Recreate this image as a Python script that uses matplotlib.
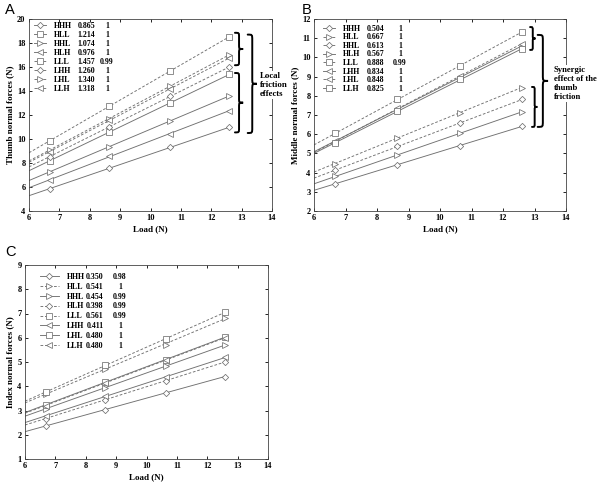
import numpy as np
import matplotlib
matplotlib.use("Agg")
import matplotlib.pyplot as plt
from matplotlib.path import Path
from matplotlib.patches import PathPatch
from matplotlib.lines import Line2D

plt.rcParams['font.family'] = ['Liberation Serif', 'DejaVu Serif']
plt.rcParams['font.weight'] = 'bold'

loads = [6.68, 8.65, 10.63, 12.6]

# Panel A: thumb normal forces
a_names = ["HHH", "HLL", "HHL", "HLH", "LLL", "LHH", "LHL", "LLH"]
a_slopes = ["0.865", "1.214", "1.074", "0.976", "1.457", "1.260", "1.340", "1.318"]
a_r2 = ["1", "1", "1", "1", "0.99", "1", "1", "1"]
a_markers = ["D", "s", ">", "<", "s", "D", ">", "<"]
a_dashed = [False, False, False, False, True, True, True, True]
a_values = [
    [5.86, 7.56, 9.31, 10.97],
    [8.17, 10.61, 12.97, 15.39],
    [7.28, 9.36, 11.47, 13.61],
    [6.58, 8.56, 10.44, 12.36],
    [9.86, 12.72, 15.64, 18.53],
    [8.54, 11.00, 13.56, 16.00],
    [9.10, 11.67, 14.44, 17.00],
    [8.95, 11.56, 14.17, 16.75],
]

# Panel B: middle normal forces
b_names = ["HHH", "HLL", "HHL", "HLH", "LLL", "LHH", "LHL", "LLH"]
b_slopes = ["0.504", "0.667", "0.613", "0.567", "0.888", "0.834", "0.848", "0.825"]
b_r2 = ["1", "1", "1", "1", "0.99", "1", "1", "1"]
b_markers = ["D", ">", "D", ">", "s", "<", "<", "s"]
b_dashed = [False, True, True, False, True, False, True, False]
b_values = [
    [3.43, 4.40, 5.41, 6.41],
    [4.47, 5.82, 7.12, 8.43],
    [4.14, 5.36, 6.56, 7.82],
    [3.81, 4.91, 6.04, 7.17],
    [6.04, 7.82, 9.56, 11.32],
    [5.64, 7.30, 9.00, 10.57],
    [5.60, 7.37, 9.04, 10.69],
    [5.55, 7.19, 8.86, 10.43],
]

# Panel C: index normal forces
c_names = ["HHH", "HLL", "HHL", "HLH", "LLL", "LHH", "LHL", "LLH"]
c_slopes = ["0.350", "0.541", "0.454", "0.398", "0.561", "0.411", "0.480", "0.480"]
c_r2 = ["0.98", "1", "0.99", "0.99", "0.99", "1", "1", "1"]
c_markers = ["D", ">", ">", "D", "s", "<", "s", "<"]
c_dashed = [False, True, False, True, True, False, False, True]
c_values = [
    [2.36, 3.04, 3.74, 4.40],
    [3.67, 4.73, 5.72, 6.81],
    [3.08, 3.93, 4.83, 5.71],
    [2.67, 3.45, 4.22, 5.01],
    [3.77, 4.86, 5.94, 7.07],
    [2.78, 3.58, 4.39, 5.19],
    [3.23, 4.18, 5.10, 6.03],
    [3.20, 4.15, 5.08, 6.00],
]

GRAY = "#707070"
LFS = 5.7
TXT = dict(fontsize=LFS, fontweight='bold')

fig = plt.figure(figsize=(6.0, 4.82), dpi=100)


def make_axes(rect, ylim, yticks, ylabel):
    ax = fig.add_axes(rect)
    ax.set_xlim(6, 14)
    ax.set_ylim(*ylim)
    ax.set_xticks(range(6, 15))
    ax.set_yticks(yticks)
    ax.tick_params(direction='in', top=True, right=True, length=2.5, width=0.6,
                   labelsize=6.0, pad=2.5)
    for s in ax.spines.values():
        s.set_linewidth(0.6)
        s.set_color('#444444')
    ax.set_xlabel("Load (N)", fontsize=6.5, fontweight='bold', labelpad=2)
    ax.set_ylabel(ylabel, fontsize=6.5, fontweight='bold', labelpad=2)
    return ax


def draw_series(ax, values, markers, dashed):
    x = np.array(loads)
    handles = []
    for v, m, d in zip(values, markers, dashed):
        v = np.array(v)
        k, b = np.polyfit(x, v, 1)
        xx = np.array([6.0, x[-1]])
        ls = (0, (3, 2)) if d else '-'
        ax.plot(xx, k * xx + b, color=GRAY, lw=0.65, linestyle=ls, zorder=2)
        ms = 3.2 if m == 'D' else 4.0
        ax.plot(x, v, linestyle='none', marker=m, ms=ms, mfc='white',
                mec=GRAY, mew=0.55, zorder=3)
        handles.append(Line2D([0], [0], color=GRAY, lw=0.65, linestyle=ls,
                              marker=m, ms=ms, mfc='white', mec=GRAY, mew=0.55))
    return handles


def draw_legend(ax, handles, names, slopes, r2, anchor, handlelength,
                spacing, xs, xr):
    leg = ax.legend(handles, names, loc='upper left', bbox_to_anchor=anchor,
                    frameon=False, handlelength=handlelength,
                    handletextpad=1.0, labelspacing=spacing, borderaxespad=0,
                    borderpad=0, prop=dict(weight='bold', size=LFS))
    fig.canvas.draw()
    inv = ax.transAxes.inverted()
    for t, s, r in zip(leg.get_texts(), slopes, r2):
        bb = t.get_window_extent()
        yc = inv.transform(((bb.x0 + bb.x1) / 2, (bb.y0 + bb.y1) / 2))[1]
        ax.text(xs, yc, s, transform=ax.transAxes, ha='center', va='center', **TXT)
        ax.text(xr, yc, r, transform=ax.transAxes, ha='center', va='center', **TXT)
    return leg


def brace(ax, x0, w, ytop, ybot, r, lw=1.4):
    xl, xm, xr = x0, x0 + w * 0.5, x0 + w
    ym = (ytop + ybot) / 2
    verts = [
        (xl, ytop), (xm, ytop), (xm, ytop), (xm, ytop - r),
        (xm, ym + r),
        (xm, ym), (xm, ym), (xr, ym),
        (xm, ym), (xm, ym), (xm, ym - r),
        (xm, ybot + r),
        (xm, ybot), (xm, ybot), (xl, ybot),
    ]
    codes = [Path.MOVETO, Path.CURVE4, Path.CURVE4, Path.CURVE4,
             Path.LINETO,
             Path.CURVE4, Path.CURVE4, Path.CURVE4,
             Path.CURVE4, Path.CURVE4, Path.CURVE4,
             Path.LINETO,
             Path.CURVE4, Path.CURVE4, Path.CURVE4]
    p = PathPatch(Path(verts, codes), fill=False, lw=lw, color='black',
                  clip_on=False, zorder=6, capstyle='round')
    ax.add_patch(p)


# ---- Panel A ----
axA = make_axes([29 / 600, 1 - 211 / 482, 243 / 600, 192 / 482], (4, 20),
                range(4, 21, 2), "Thumb normal forces (N)")
hA = draw_series(axA, a_values, a_markers, a_dashed)
draw_legend(axA, hA, a_names, a_slopes, a_r2, (0.02, 0.985), 1.5, 0.13, 0.237, 0.321)
brace(axA, 12.78, 0.27, 18.85, 16.15, 0.35)
brace(axA, 12.78, 0.27, 15.5, 10.55, 0.35)
brace(axA, 13.2, 0.3, 18.7, 10.5, 0.45)
axA.text(13.6, 14.5, "Local\nfriction\neffects", ha='left', va='center',
         fontsize=6.3, fontweight='bold', linespacing=1.15, clip_on=False, zorder=7,
         bbox=dict(facecolor='white', edgecolor='none', pad=0.5))

# ---- Panel B ----
axB = make_axes([314 / 600, 1 - 211 / 482, 252 / 600, 192 / 482], (2, 12),
                range(2, 13), "Middle normal forces (N)")
hB = draw_series(axB, b_values, b_markers, b_dashed)
draw_legend(axB, hB, b_names, b_slopes, b_r2, (0.035, 0.97), 1.5, 0.07, 0.246, 0.341)
brace(axB, 12.86, 0.17, 11.58, 10.39, 0.2)
brace(axB, 12.92, 0.17, 8.46, 6.38, 0.2)
brace(axB, 13.1, 0.33, 11.17, 6.38, 0.3)
axB.text(13.62, 8.64, "Synergic\neffect of the\nthumb\nfriction", ha='left', va='center',
         fontsize=6.2, fontweight='bold', linespacing=1.15, clip_on=False, zorder=7,
         bbox=dict(facecolor='white', edgecolor='none', pad=0.5))

# ---- Panel C ----
axC = make_axes([25 / 600, 1 - 459 / 482, 243 / 600, 194 / 482], (1, 9),
                range(1, 10), "Index normal forces (N)")
hC = draw_series(axC, c_values, c_markers, c_dashed)
draw_legend(axC, hC, c_names, c_slopes, c_r2, (0.06, 0.96), 2.5, 0.24, 0.288, 0.391)

# Panel letters
for lbl, x, y in [("A", 5, 3), ("B", 302, 3), ("C", 5, 245)]:
    fig.text(x / 600, 1 - y / 482, lbl, ha='left', va='top', fontsize=10.5,
             family=['Liberation Sans', 'DejaVu Sans'], fontweight='normal')

fig.savefig("out.png", dpi=100)
